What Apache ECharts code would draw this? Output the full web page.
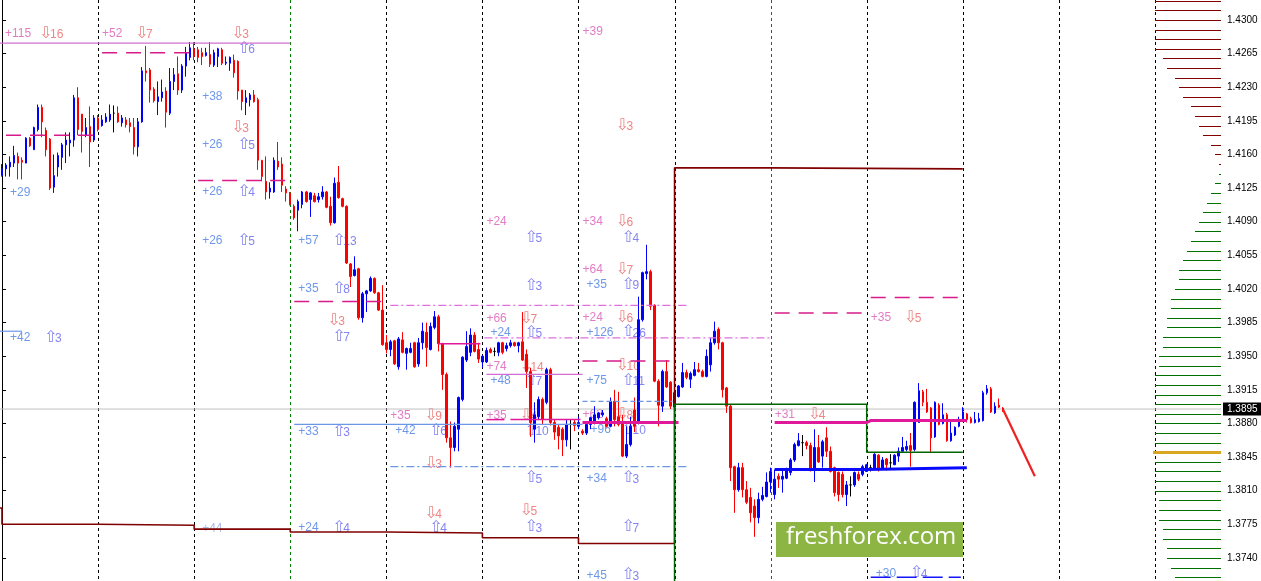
<!DOCTYPE html>
<html><head><meta charset="utf-8">
<script src="https://cdn.jsdelivr.net/npm/echarts@6/dist/echarts.min.js"></script>
<style>html,body{margin:0;padding:0;background:#fff;overflow:hidden}#c{width:1261px;height:581px}</style>
</head><body><div id="c"></div>
<script>
// ---------- DATA ----------
// hourly candles: [open, close, low, high]
const ohlc = [
[1.4138,1.4145,1.4137,1.4150],[1.4145,1.4149,1.4137,1.4151],[1.4147,1.4152,1.4137,1.4158],[1.4151,1.4159,1.4147,1.4169],
[1.4158,1.4151,1.4134,1.4162],[1.4154,1.4152,1.4134,1.4157],[1.4151,1.4177,1.4151,1.4178],[1.4177,1.4169,1.4168,1.4178],
[1.4165,1.4188,1.4165,1.4189],[1.4186,1.4209,1.4184,1.4212],[1.4209,1.4194,1.4178,1.4212],[1.4185,1.4165,1.4158,1.4188],
[1.4176,1.4125,1.4123,1.4177],[1.4126,1.4138,1.4120,1.4160],[1.4147,1.4159,1.4137,1.4162],[1.4157,1.4170,1.4144,1.4172],
[1.4170,1.4175,1.4151,1.4183],[1.4172,1.4175,1.4158,1.4183],[1.4175,1.4219,1.4168,1.4222],[1.4219,1.4186,1.4180,1.4230],
[1.4202,1.4184,1.4162,1.4202],[1.4180,1.4188,1.4178,1.4198],[1.4189,1.4173,1.4147,1.4210],[1.4175,1.4198,1.4173,1.4201],
[1.4198,1.4186,1.4184,1.4201],[1.4190,1.4196,1.4189,1.4201],[1.4194,1.4199,1.4193,1.4203],[1.4196,1.4202,1.4194,1.4212],
[1.4203,1.4203,1.4183,1.4211],[1.4203,1.4194,1.4193,1.4210],[1.4193,1.4198,1.4189,1.4201],[1.4196,1.4191,1.4188,1.4199],
[1.4193,1.4189,1.4183,1.4198],[1.4188,1.4168,1.4160,1.4198],[1.4168,1.4194,1.4158,1.4198],[1.4194,1.4247,1.4193,1.4251],
[1.4247,1.4245,1.4236,1.4273],[1.4248,1.4227,1.4214,1.4250],[1.4228,1.4216,1.4214,1.4230],[1.4215,1.4220,1.4201,1.4236],
[1.4219,1.4225,1.4215,1.4238],[1.4226,1.4204,1.4188,1.4230],[1.4203,1.4236,1.4201,1.4250],[1.4236,1.4243,1.4227,1.4250],
[1.4244,1.4227,1.4222,1.4262],[1.4227,1.4252,1.4224,1.4254],[1.4252,1.4266,1.4241,1.4272],[1.4261,1.4271,1.4258,1.4277],
[1.4270,1.4262,1.4258,1.4277],[1.4269,1.4261,1.4256,1.4272],[1.4266,1.4262,1.4253,1.4271],[1.4263,1.4266,1.4262,1.4271],
[1.4264,1.4254,1.4251,1.4277],[1.4253,1.4266,1.4251,1.4269],[1.4262,1.4270,1.4251,1.4271],[1.4269,1.4255,1.4253,1.4271],
[1.4255,1.4256,1.4253,1.4262],[1.4255,1.4261,1.4247,1.4262],[1.4258,1.4245,1.4240,1.4264],[1.4257,1.4226,1.4217,1.4258],
[1.4227,1.4215,1.4206,1.4227],[1.4214,1.4219,1.4201,1.4227],[1.4217,1.4222,1.4210,1.4224],[1.4222,1.4215,1.4214,1.4227],
[1.4217,1.4154,1.4144,1.4219],[1.4154,1.4137,1.4132,1.4154],[1.4132,1.4121,1.4113,1.4158],[1.4121,1.4125,1.4114,1.4131],
[1.4121,1.4154,1.4120,1.4157],[1.4153,1.4147,1.4144,1.4173],[1.4150,1.4128,1.4121,1.4157],[1.4124,1.4120,1.4111,1.4127],
[1.4120,1.4108,1.4107,1.4121],[1.4106,1.4094,1.4092,1.4108],[1.4102,1.4111,1.4080,1.4113],[1.4108,1.4121,1.4104,1.4122],
[1.4121,1.4111,1.4110,1.4122],[1.4113,1.4120,1.4095,1.4121],[1.4117,1.4111,1.4110,1.4120],[1.4113,1.4116,1.4110,1.4120],
[1.4116,1.4121,1.4113,1.4127],[1.4121,1.4105,1.4104,1.4122],[1.4106,1.4089,1.4086,1.4116],[1.4089,1.4130,1.4088,1.4136],
[1.4131,1.4115,1.4114,1.4148],[1.4114,1.4106,1.4105,1.4115],[1.4106,1.4047,1.4046,1.4107],[1.4046,1.4033,1.4022,1.4047],
[1.4034,1.4040,1.4033,1.4054],[1.4041,1.3990,1.3988,1.4042],[1.3990,1.4015,1.3985,1.4017],[1.4015,1.4018,1.3996,1.4019],
[1.4018,1.4031,1.4017,1.4033],[1.4031,1.4016,1.4015,1.4032],[1.4016,1.3998,1.3997,1.4017],[1.3998,1.3962,1.3961,1.4024],
[1.3964,1.3957,1.3953,1.3972],[1.3957,1.3965,1.3950,1.3967],[1.3966,1.3942,1.3941,1.3967],[1.3939,1.3968,1.3936,1.3970],
[1.3967,1.3954,1.3953,1.3975],[1.3953,1.3958,1.3936,1.3959],[1.3954,1.3958,1.3953,1.3964],[1.3964,1.3939,1.3938,1.3965],
[1.3942,1.3964,1.3939,1.3969],[1.3964,1.3976,1.3957,1.3985],[1.3975,1.3959,1.3939,1.3985],[1.3957,1.3981,1.3956,1.3985],
[1.3980,1.3991,1.3978,1.3997],[1.3991,1.3963,1.3955,1.3993],[1.3963,1.3931,1.3915,1.3964],[1.3931,1.3865,1.3860,1.3933],
[1.3865,1.3855,1.3834,1.3882],[1.3855,1.3877,1.3851,1.3881],[1.3874,1.3907,1.3851,1.3908],[1.3905,1.3949,1.3903,1.3950],
[1.3946,1.3960,1.3944,1.3976],[1.3954,1.3972,1.3950,1.3979],[1.3972,1.3955,1.3954,1.3975],[1.3957,1.3947,1.3943,1.3964],
[1.3944,1.3950,1.3938,1.3951],[1.3944,1.3956,1.3943,1.3959],[1.3957,1.3954,1.3953,1.3959],[1.3955,1.3955,1.3950,1.3959],
[1.3954,1.3964,1.3950,1.3965],[1.3964,1.3954,1.3952,1.3965],[1.3958,1.3961,1.3955,1.3964],[1.3961,1.3964,1.3959,1.3967],
[1.3964,1.3961,1.3960,1.3965],[1.3961,1.3964,1.3954,1.3965],[1.3965,1.3946,1.3945,1.3996],[1.3952,1.3934,1.3917,1.3957],
[1.3934,1.3881,1.3866,1.3938],[1.3874,1.3889,1.3860,1.3902],[1.3887,1.3905,1.3884,1.3908],[1.3905,1.3884,1.3879,1.3907],
[1.3902,1.3936,1.3900,1.3938],[1.3936,1.3881,1.3878,1.3938],[1.3881,1.3871,1.3863,1.3884],[1.3876,1.3867,1.3853,1.3879],
[1.3874,1.3863,1.3846,1.3876],[1.3863,1.3879,1.3856,1.3884],[1.3879,1.3879,1.3853,1.3884],[1.3881,1.3878,1.3872,1.3884],
[1.3877,1.3881,1.3874,1.3887],[1.3872,1.3870,1.3868,1.3874],[1.3870,1.3879,1.3868,1.3881],[1.3879,1.3886,1.3874,1.3887],
[1.3881,1.3889,1.3879,1.3898],[1.3886,1.3891,1.3884,1.3892],[1.3889,1.3891,1.3887,1.3894],[1.3885,1.3877,1.3876,1.3887],
[1.3877,1.3903,1.3876,1.3907],[1.3903,1.3884,1.3877,1.3915],[1.3887,1.3879,1.3877,1.3913],[1.3881,1.3846,1.3845,1.3889],
[1.3846,1.3858,1.3844,1.3877],[1.3858,1.3877,1.3856,1.3887],[1.3894,1.3877,1.3871,1.3907],[1.3881,1.3988,1.3879,1.4012],
[1.3988,1.4037,1.3986,1.4038],[1.4036,1.4038,1.4030,1.4066],[1.4038,1.4002,1.3998,1.4040],[1.4003,1.3924,1.3923,1.4004],
[1.3924,1.3899,1.3877,1.3926],[1.3898,1.3934,1.3892,1.3936],[1.3934,1.3918,1.3917,1.3946],[1.3923,1.3898,1.3895,1.3924],
[1.3897,1.3912,1.3894,1.3913],[1.3908,1.3919,1.3907,1.3920],[1.3918,1.3933,1.3917,1.3943],[1.3933,1.3928,1.3926,1.3936],
[1.3926,1.3932,1.3917,1.3934],[1.3930,1.3936,1.3929,1.3944],[1.3936,1.3934,1.3933,1.3943],[1.3934,1.3929,1.3928,1.3936],
[1.3929,1.3950,1.3928,1.3957],[1.3941,1.3964,1.3934,1.3969],[1.3964,1.3976,1.3962,1.3986],[1.3978,1.3964,1.3957,1.3980],
[1.3964,1.3915,1.3907,1.3965],[1.3917,1.3898,1.3891,1.3918],[1.3898,1.3834,1.3820,1.3900],[1.3835,1.3811,1.3787,1.3836],
[1.3811,1.3834,1.3809,1.3839],[1.3834,1.3811,1.3803,1.3839],[1.3811,1.3798,1.3796,1.3820],[1.3803,1.3787,1.3777,1.3813],
[1.3794,1.3782,1.3762,1.3801],[1.3782,1.3801,1.3776,1.3808],[1.3801,1.3805,1.3799,1.3814],[1.3804,1.3819,1.3803,1.3829],
[1.3819,1.3830,1.3808,1.3834],[1.3806,1.3822,1.3801,1.3832],[1.3825,1.3822,1.3813,1.3828],[1.3822,1.3825,1.3808,1.3832],
[1.3823,1.3832,1.3822,1.3834],[1.3829,1.3842,1.3826,1.3844],[1.3842,1.3858,1.3840,1.3860],[1.3857,1.3862,1.3856,1.3870],
[1.3860,1.3860,1.3846,1.3868],[1.3860,1.3857,1.3853,1.3862],[1.3857,1.3831,1.3830,1.3860],[1.3831,1.3855,1.3819,1.3874],
[1.3855,1.3840,1.3839,1.3868],[1.3846,1.3861,1.3834,1.3863],[1.3865,1.3851,1.3845,1.3876],[1.3851,1.3830,1.3829,1.3856],
[1.3834,1.3808,1.3804,1.3835],[1.3829,1.3806,1.3799,1.3830],[1.3827,1.3806,1.3803,1.3830],[1.3806,1.3816,1.3794,1.3820],
[1.3816,1.3816,1.3804,1.3825],[1.3816,1.3829,1.3814,1.3830],[1.3827,1.3822,1.3820,1.3830],[1.3827,1.3835,1.3825,1.3837],
[1.3830,1.3837,1.3830,1.3838],[1.3834,1.3834,1.3830,1.3837],[1.3833,1.3848,1.3832,1.3849],[1.3847,1.3833,1.3830,1.3848],
[1.3833,1.3842,1.3832,1.3845],[1.3843,1.3837,1.3831,1.3844],[1.3839,1.3839,1.3832,1.3848],[1.3837,1.3847,1.3837,1.3848],
[1.3846,1.3851,1.3840,1.3855],[1.3851,1.3855,1.3851,1.3866],[1.3853,1.3856,1.3851,1.3862],[1.3857,1.3852,1.3835,1.3870],
[1.3853,1.3902,1.3851,1.3903],[1.3881,1.3914,1.3881,1.3922],[1.3913,1.3902,1.3898,1.3915],[1.3902,1.3892,1.3891,1.3916],
[1.3896,1.3865,1.3850,1.3897],[1.3866,1.3902,1.3865,1.3903],[1.3899,1.3879,1.3878,1.3901],[1.3880,1.3889,1.3879,1.3901],
[1.3889,1.3862,1.3861,1.3891],[1.3862,1.3870,1.3861,1.3884],[1.3868,1.3876,1.3867,1.3877],[1.3877,1.3884,1.3876,1.3887],
[1.3884,1.3892,1.3882,1.3897],[1.3890,1.3884,1.3881,1.3891],[1.3885,1.3881,1.3880,1.3887],[1.3881,1.3884,1.3880,1.3892],
[1.3882,1.3885,1.3881,1.3891],[1.3883,1.3912,1.3882,1.3914],[1.3912,1.3916,1.3910,1.3920],[1.3916,1.3892,1.3891,1.3918],
[1.3891,1.3898,1.3890,1.3902],[1.3899,1.3897,1.3896,1.3906],[1.3896,1.3895,1.3892,1.3897]
];
const barSlots = 305;              // bars that fit the window (incl. empty future space)
const currentPrice = 1.3895;
const priceMin = 1.3716, priceMax = 1.43208;
const priceTicks = [1.4300,1.4265,1.4230,1.4195,1.4160,1.4125,1.4090,1.4055,1.4020,1.3985,1.3950,1.3915,1.3880,1.3845,1.3810,1.3775,1.3740];

// day separators (bar index) and their kind
const separatorBars = [0,24,48,72,96,120,144,168,192,216,240,264,288];
const separatorKinds = ['k','k','k','g','k','k','k','k','r','k','k','k','k'];

// level lines: [fromBar, toBar, price, kind]
const levelLines = [
 [-0.5, 72, 1.4276, 'orchid'],
 [25, 47, 1.4266, 'magDash'],
 [1, 24, 1.4180, 'magDash'],
 [49, 72, 1.4133, 'magDash'],
 [-0.5, 5, 1.3976, 'blue'],
 [73, 95.5, 1.4007, 'magDash'],
 [97, 171, 1.4003, 'orchidDashDot'],
 [120.5, 192, 1.3969, 'orchidDashDot'],
 [109, 119.5, 1.3963, 'mag'],
 [145, 167.5, 1.3945, 'magDash'],
 [121, 145, 1.3931, 'orchid'],
 [145, 167.5, 1.3903, 'blueDash'],
 [73, 145, 1.3879, 'blue'],
 [145, 169, 1.3881, 'magThick'],
 [121, 125.5, 1.3884, 'mag'],
 [127, 144.5, 1.3884, 'mag'],
 [97, 171, 1.3835, 'blueDashDot'],
 [193, 215.5, 1.3995, 'magDash'],
 [217, 239.5, 1.4011, 'magDash'],
 [217, 239.5, 1.3720, 'blueThickDash']
];
// step lines: bars and prices
const lowStepBars   = [-0.5,0,0,24,24,48,48,72,72,96,96,120,120,144,144,168,168,192,192,240];
const lowStepPrices = [1.3792,1.3792,1.3775,1.3775,1.3774,1.3774,1.3770,1.3770,1.3767,1.3767,1.3766,1.3766,1.3761,1.3761,1.3755,1.3755,1.4146,1.4146,1.4145,1.4145];
const greenStepBars   = [168,168,216,216,240];
const greenStepPrices = [1.3700,1.3900,1.3900,1.3850,1.3850];
const magStepBars   = [193,216,217,241];
const magStepPrices = [1.3881,1.3881,1.3883,1.3883];
const blueStepBars   = [193,216,216,241];
const blueStepPrices = [1.3832,1.3832,1.3834,1.3834];
const forecastBars   = [250,258];
const forecastPrices = [1.3895,1.3825];

// annotations: [bar, price, text, kind]  p=pink, d=down, u=up, b=blue, f=faint
const notes = [
 [0.75,1.4286,'+115','p'],[9.5,1.4286,'⇩16','d'],[2,1.4120,'+29','b'],[2,1.3969,'+42','b'],[10.75,1.3969,'⇧3','u'],
 [25,1.4286,'+52','p'],[33.5,1.4286,'⇩7','d'],[50,1.3770,'+44','f'],
 [57.5,1.4286,'⇩3','d'],[59,1.4270,'⇧6','u'],[50,1.4220,'+38','b'],[57.5,1.4188,'⇩3','d'],
 [50,1.4170,'+26','b'],[59,1.4170,'⇧5','u'],[50,1.4121,'+26','b'],[59,1.4121,'⇧4','u'],[50,1.4070,'+26','b'],[59,1.4070,'⇧5','u'],
 [74,1.4070,'+57','b'],[82.75,1.4070,'⇧13','u'],[74,1.4020,'+35','b'],[82.75,1.4020,'⇧8','u'],[81.5,1.3987,'⇩3','d'],[82.75,1.3970,'⇧7','u'],
 [74,1.3871,'+33','b'],[82.75,1.3871,'⇧3','u'],[74,1.3771,'+24','b'],[82.75,1.3771,'⇧4','u'],
 [97,1.3888,'+35','p'],[105.75,1.3888,'⇩9','d'],[98.25,1.3872,'+42','b'],[107,1.3872,'⇧6','u'],[105.75,1.3838,'⇩3','d'],
 [105.75,1.3786,'⇩4','d'],[107,1.3771,'⇧4','u'],
 [121,1.4090,'+24','p'],[130.75,1.4073,'⇧5','u'],[130.75,1.4023,'⇧3','u'],[121,1.3989,'+66','p'],[129.5,1.3989,'⇩7','d'],
 [122,1.3974,'+24','b'],[130.75,1.3974,'⇧5','u'],[121,1.3939,'+74','p'],[129.5,1.3939,'⇩14','d'],[122,1.3924,'+48','b'],
 [130.75,1.3924,'⇧7','u'],[121,1.3888,'+35','p'],[129.5,1.3888,'⇩4','d'],[130.75,1.3872,'⇧10','u'],[130.75,1.3823,'⇧5','u'],
 [129.5,1.3789,'⇩5','d'],[130.75,1.3772,'⇧3','u'],
 [145,1.4288,'+39','p'],[153.5,1.4190,'⇩3','d'],[145,1.4090,'+34','p'],[153.5,1.4090,'⇩6','d'],[155,1.4073,'⇧4','u'],
 [145,1.4040,'+64','p'],[153.5,1.4040,'⇩7','d'],[146,1.4024,'+35','b'],[155,1.4024,'⇧9','u'],[145,1.3990,'+24','p'],
 [153.5,1.3990,'⇩6','d'],[146,1.3975,'+126','b'],[155,1.3975,'⇧26','u'],[153.5,1.3940,'⇩10','d'],[146,1.3924,'+75','b'],
 [155,1.3924,'⇧11','u'],[145,1.3889,'+62','p'],[153.5,1.3889,'⇩8','d'],[147,1.3873,'+96','b'],[155,1.3873,'⇧10','u'],
 [146,1.3823,'+34','b'],[155,1.3823,'⇧3','u'],[155,1.3772,'⇧7','u'],[146,1.3722,'+45','b'],[155,1.3722,'⇧3','u'],
 [193,1.3889,'+31','p'],[201.5,1.3889,'⇩4','d'],[217,1.3990,'+35','p'],[225.5,1.3990,'⇩5','d'],
 [218.25,1.3724,'+30','b'],[227,1.3724,'⇧4','u']
];

// volume profile at the right edge: price levels and relative volume
const profilePrices = [1.4320,1.4310,1.4300,1.4290,1.4280,1.4270,1.4260,1.4250,1.4240,1.4230,1.4220,1.4210,1.4200,1.4190,1.4180,1.4170,1.4160,1.4150,
 1.4140,1.4130,1.4120,1.4110,1.4100,1.4090,1.4080,1.4070,1.4060,1.4050,1.4040,1.4030,1.4020,1.4010,1.4000,1.3990,1.3980,1.3970,1.3960,1.3950,1.3940,
 1.3930,1.3920,1.3910,1.3900,1.3890,1.3880,1.3870,1.3860,1.3850,1.3840,1.3830,1.3820,1.3810,1.3800,1.3790,1.3780,1.3770,1.3760,1.3750,1.3740,1.3730,1.3720];
const profileVolumes = [66,66,66,66,66,66,58,54,46,42,38,30,26,22,18,10,6,2,
 2,6,10,14,18,22,26,30,34,38,42,42,46,50,50,54,54,58,58,62,62,
 66,66,66,66,66,66,66,66,68,66,66,66,66,62,62,62,58,58,54,54,50,46];
const profileSplit = 1.4145;   // above: sell side, below: buy side
const profilePOC = 1.3850;

// ---------- STYLES ----------
const FONT = '"Liberation Sans","DejaVu Sans",sans-serif';
const ARROW_FONT = '"DejaVu Sans",sans-serif';
const lineStyles = {
  orchid:{color:'#d26ed2',width:1.2,type:'solid'},
  mag:{color:'#e0189a',width:1.5,type:'solid'},
  magThick:{color:'#e0189a',width:3,type:'solid'},
  magDash:{color:'#d81b8a',width:1.5,type:[15,9]},
  orchidDashDot:{color:'#e070e0',width:1.2,type:[8,3,2,3]},
  blue:{color:'#6c96e6',width:1.2,type:'solid'},
  blueDash:{color:'#6c96e6',width:1.2,type:[5,3]},
  blueDashDot:{color:'#6c96e6',width:1.2,type:[8,3,2,3]},
  blueThickDash:{color:'#1515ff',width:1.5,type:[20,6]}
};
const noteColors = {p:'#e27cc6',d:'#f08585',u:'#8585f2',b:'#6f98e8',f:'#a9bbea'};
const sepColors = {k:'#000000',g:'#008000',r:'#ff0000'};

const categories = Array.from({length:barSlots},(_,i)=>String(i));
const chart = echarts.init(document.getElementById('c'));
const series = [];

series.push({
  type:'custom', name:'separators', xAxisIndex:1, yAxisIndex:0, z:1, silent:true, animation:false,
  data: separatorBars.map((b,i)=>[b, priceMin, i]),
  encode:{x:0,y:1},
  renderItem:(params, api)=>{
    const i = params.dataIndex;
    const x = Math.round(api.coord([api.value(0), priceMin])[0]) + 0.5;
    const cs = params.coordSys;
    return {type:'line', shape:{x1:x,y1:cs.y,x2:x,y2:cs.y+cs.height},
      style:{stroke:sepColors[separatorKinds[i]], lineWidth:1, lineDash:[3,3]}};
  }
});

// current price line with tag on the axis
series.push({
  type:'line', name:'bid', xAxisIndex:1, yAxisIndex:0, z:2, symbol:'none', silent:true, animation:false,
  data:[[-0.5, currentPrice],[barSlots-0.5, currentPrice]],
  lineStyle:{color:'#c0c0c0', width:1},
  endLabel:{show:true, formatter: currentPrice.toFixed(4), backgroundColor:'#000', color:'#fff',
    fontSize:10, fontFamily:FONT, padding:[2,4,1,4], distance:2}
});

series.push({
  type:'custom', name:'notes', xAxisIndex:1, yAxisIndex:0, z:2, silent:true, animation:false, clip:true,
  data: notes.map(n=>[n[0], n[1]]),
  encode:{x:0,y:1},
  renderItem:(params, api)=>{
    const n = notes[params.dataIndex];
    const p = api.coord([api.value(0), api.value(1)]);
    const col = noteColors[n[3]];
    const first = n[2].charAt(0);
    if (first === '⇩' || first === '⇧') {
      return {type:'group', children:[
        {type:'text', x:p[0]-1, y:p[1], style:{text:first, fill:col, fontSize:16, fontFamily:ARROW_FONT, align:'left', verticalAlign:'middle'}},
        {type:'text', x:p[0]+10, y:p[1]+1, style:{text:n[2].slice(1), fill:col, fontSize:12, fontFamily:FONT, align:'left', verticalAlign:'middle'}}
      ]};
    }
    return {type:'text', x:p[0], y:p[1],
      style:{text:n[2], fill:col, fontSize:12, fontFamily:FONT, align:'left', verticalAlign:'middle'}};
  }
});

series.push({
  type:'candlestick', name:'EURUSD', xAxisIndex:0, yAxisIndex:0, z:3, data: ohlc, barWidth:2, animation:false,
  itemStyle:{color:'#0000ff', color0:'#ff0000', borderColor:'#0000ff', borderColor0:'#ff0000', borderColorDoji:'#000000', borderWidth:1}
});

levelLines.forEach(l=>{
  series.push({type:'line', xAxisIndex:1, yAxisIndex:0, z:4, symbol:'none', silent:true, animation:false,
    data:[[l[0],l[2]],[l[1],l[2]]], lineStyle:lineStyles[l[3]]});
});
const pairs = (xs, ps)=>xs.map((x,i)=>[x, ps[i]]);
series.push({type:'line', xAxisIndex:1, yAxisIndex:0, z:4, symbol:'none', silent:true, animation:false,
  data:pairs(lowStepBars, lowStepPrices), lineStyle:{color:'#800000', width:1.6}});
series.push({type:'line', xAxisIndex:1, yAxisIndex:0, z:4, symbol:'none', silent:true, animation:false,
  data:pairs(greenStepBars, greenStepPrices), lineStyle:{color:'#006400', width:1.5}});
series.push({type:'line', xAxisIndex:1, yAxisIndex:0, z:4, symbol:'none', silent:true, animation:false,
  data:pairs(magStepBars, magStepPrices), lineStyle:{color:'#e0189a', width:3}});
series.push({type:'line', xAxisIndex:1, yAxisIndex:0, z:4, symbol:'none', silent:true, animation:false,
  data:pairs(blueStepBars, blueStepPrices), lineStyle:{color:'#0a0aff', width:3}});
series.push({type:'line', xAxisIndex:1, yAxisIndex:0, z:5, symbol:'none', silent:true, animation:false,
  data:pairs(forecastBars, forecastPrices), lineStyle:{color:'#f02020', width:2.2}});

series.push({
  type:'custom', name:'profile', xAxisIndex:1, yAxisIndex:0, z:4, silent:true, animation:false,
  data: profilePrices.map((p,i)=>[barSlots-0.5, p, profileVolumes[i]]),
  encode:{x:0,y:1},
  renderItem:(params, api)=>{
    const price = api.value(1), vol = api.value(2);
    const y = Math.round(api.coord([api.value(0), price])[1]) + 0.5;
    const cs = params.coordSys;
    const xr = cs.x + cs.width;
    const poc = Math.abs(price - profilePOC) < 1e-6;
    const col = poc ? '#daa520' : (price > profileSplit ? '#800000' : '#007000');
    return {type:'line', shape:{x1:xr-vol, y1:y, x2:xr, y2:y}, style:{stroke:col, lineWidth: poc ? 3 : 1}};
  }
});

chart.setOption({
  animation:false,
  backgroundColor:'#ffffff',
  grid:{left:0, top:0, width:1221, height:581, containLabel:false},
  xAxis:[
    {type:'category', data:categories, boundaryGap:true, show:false},
    {type:'value', min:-0.5, max:barSlots-0.5, show:false}
  ],
  yAxis:{
    type:'value', position:'right', min:priceMin, max:priceMax, scale:true,
    axisLine:{show:true, lineStyle:{color:'#000', width:1}},
    axisTick:{show:true, length:4, lineStyle:{color:'#000'}, customValues:priceTicks},
    axisLabel:{color:'#000', fontSize:10, fontFamily:FONT, margin:6, customValues:priceTicks, formatter:v=>v.toFixed(4)},
    splitLine:{show:false}
  },
  graphic:[
    {type:'rect', left:776, top:522, shape:{width:187, height:35}, style:{fill:'#8db543'}, z:100},
    {type:'text', left:786, top:525, style:{text:'freshforex.com', fill:'#ffffff', fontSize:24, fontFamily:'"Open Sans","DejaVu Sans",sans-serif'}, z:101}
  ],
  series
});
</script>
</body></html>
